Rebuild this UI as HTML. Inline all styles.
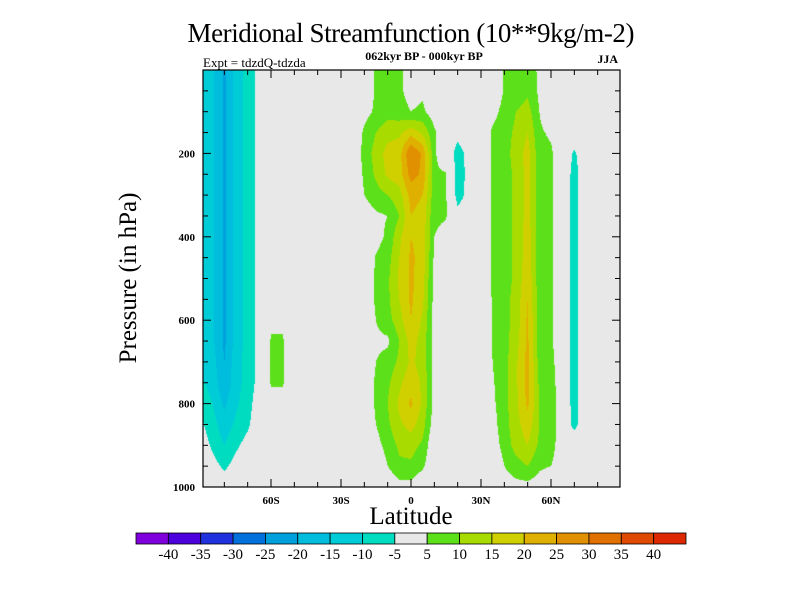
<!DOCTYPE html>
<html><head><meta charset="utf-8">
<style>
body{margin:0;background:#fff;width:800px;height:600px;overflow:hidden;font-family:"Liberation Serif",serif;}
#wrap{position:relative;width:800px;height:600px;}
canvas,svg{position:absolute;left:0;top:0;}
</style></head>
<body>
<div id="wrap">
<canvas id="cv" width="800" height="600"></canvas>
<svg id="sv" width="800" height="600"></svg>
</div>
<script>
// ---- data ----
const lats = [-90,-85,-80,-75,-70,-65,-60,-55,-50,-45,-40,-35,-30,-25,-20,-15,-10,-5,0,5,10,15,20,25,30,35,40,45,50,55,60,65,70,75,80,85,90];
const pressures = [0,50,100,150,200,250,300,350,400,450,500,550,600,650,700,750,800,850,900,950,1000];
const L0=[-12,-14,-21,-13,-8,-3];
const L7=[-11,-13,-20,-12,-8,-3];
const values = [
[...L0,0,0,0,0,0,0,0,0, 0,6,7,6,3,4,0,0, 0,0,0, 0,5.5,7,8,4,0, 0,0,0,0,0,0],
[...L0,0,0,0,0,0,0,0,0, 0,6,7,6,3,4,0,0, 0,0,0, 0,5.5,7,9,4,0, 0,0,0,0,0,0],
[...L0,0,0,0,0,0,0,0,0, 3,6,8,7,5,6,2,0, 0,0,0, 3,7,10,12,5,0, 0,0,0,0,0,0],
[...L0,0,0,0,0,0,0,0,0, 6,10,13,14,18,14,6,0, -3,0,0, 6,8,11,15,6,4, 0,0,0,0,0,0],
[...L0,0,0,0,0,0,0,0,0, 7,12,17,18,30,24,6,0, -7.5,-3,0, 6,8,12,17,7,6, 0,-6,0,0,0,0],
[...L0,0,0,0,0,0,0,0,0, 6,11,16,18,27,24,6,5.5, -8,-3,0, 6,8,11,17,7,6, 0,-7.5,0,0,0,0],
[...L0,0,0,0,0,0,0,0,0, 5,8,10,13,22,20,7,5.5, -7.5,-3,0, 6,8,11,17,7,6, 0,-7.5,0,0,0,0],
[...L0,0,0,0,0,0,0,0,0, 2,4,5,10,20,18,6,5.5, -3,0,0, 6,8,11,17,7,6, 0,-7.5,0,0,0,0],
[...L0,0,0,0,0,0,0,0,0, 0,3,6,14,20,18,5,3, 0,0,0, 6,8,11,18,7,6, 0,-7.5,0,0,0,0],
[...L0,0,0,0,0,0,0,0,0, 0,5.5,8,15,21,18,4,0, 0,0,0, 6,8,11,18,7,6, 0,-7.5,0,0,0,0],
[...L0,0,0,0,0,0,0,0,0, 0,6,9,16,21,17,3,0, 0,0,0, 6,8,11,19,7,6, 0,-7.5,0,0,0,0],
[...L0,0,0,0,0,0,0,0,0, 0,6,9,15,21,16,3,0, 0,0,0, 5.5,8,12,20,7,6, 0,-7.5,0,0,0,0],
[...L0,4,4,0,0,0,0,0,0, 0,5,8,13,20,14,3,0, 0,0,0, 5.5,8,12,21,7,6, 0,-7.5,0,0,0,0],
[...L0,5.5,5.5,0,0,0,0,0,0, 0,4,4,10,17,13,3,0, 0,0,0, 5.5,8,13,21,7,6, 0,-7.5,0,0,0,0],
[...L7,5.5,5.5,0,0,0,0,0,0, 0,5,7,11,16,13,3,0, 0,0,0, 5,8,14,22,8,7, 0,-7.5,0,0,0,0],
[-9,-12,-19,-12,-8,-3,5.5,5.5,0,0,0,0,0,0, 0,6,9,14,18,14,3,0, 0,0,0, 4.5,8,14,22,9,8, 0,-7.5,0,0,0,0],
[-7,-10,-16,-11,-7,-2,3,3,0,0,0,0,0,0, 0,6,10,16,21,14,3,0, 0,0,0, 4,8,14,21,10,9, 0,-7.5,0,0,0,0],
[-4,-8,-13,-9,-6,-1,0,0,0,0,0,0,0,0, 0,5,9,14,17,12,2,0, 0,0,0, 3,8,13,18,10,9, 0,-7,0,0,0,0],
[-2,-6,-10,-6,-3,0,0,0,0,0,0,0,0,0, 0,3,7,11,12,9,0,0, 0,0,0, 2,7,12,15,9,8, 0,0,0,0,0,0],
[0,-3,-6,-3,-1,0,0,0,0,0,0,0,0,0, 0,0,5,9,9,6,0,0, 0,0,0, 0,5,8,10,6,5, 0,0,0,0,0,0],
[0,0,-2,0,0,0,0,0,0,0,0,0,0,0, 0,0,0,3,3,0,0,0, 0,0,0, 0,2,3,3,2,0, 0,0,0,0,0,0]
];
const levels = [-40,-35,-30,-25,-20,-15,-10,-5,5,10,15,20,25,30,35,40];
const levelColors = ['#8000DD','#4B00DD','#2032DD','#0070DD','#00A0DD','#00BCDD','#00CCD8','#00DCC0','#E8E8E8','#5CE01A','#A8DC00','#D0D000','#E0B000','#E09000','#E07000','#E04A00','#DD2800'];
const xTicks = [-60,-30,0,30,60];
const xTickLabels = ['60S','30S','0','30N','60N'];
const yTicks = [200,400,600,800,1000];

// ---- axes ----
const PX0=201, PX1=621, PY0=70, PY1=487;
const xs = lat => PX0 + (lat+90)/180*(PX1-PX0);
const ys = p => PY0 + p/1000*(PY1-PY0);
const latOf = x => (x-PX0)/(PX1-PX0)*180-90;
const pOf = y => (y-PY0)/(PY1-PY0)*1000;

function interp(lat,p){
  let i=(lat-lats[0])/(lats[1]-lats[0]); let j=(p-pressures[0])/(pressures[1]-pressures[0]);
  i=Math.max(0,Math.min(lats.length-1.0001,i)); j=Math.max(0,Math.min(pressures.length-1.0001,j));
  const i0=Math.floor(i), j0=Math.floor(j), fi=i-i0, fj=j-j0;
  const a=values[j0][i0], b=values[j0][i0+1], c=values[j0+1][i0], d=values[j0+1][i0+1];
  return (a*(1-fi)+b*fi)*(1-fj)+(c*(1-fi)+d*fi)*fj;
}
function colorOf(v){let k=0;while(k<levels.length&&v>=levels[k])k++;return levelColors[k];}

const ctx=document.getElementById('cv').getContext('2d');
for(let y=PY0;y<PY1;y++){for(let x=PX0+2;x<PX1-1;x++){
  ctx.fillStyle=colorOf(interp(latOf(x+0.5),pOf(y+0.5)));ctx.fillRect(x,y,1,1);}}

const NS='http://www.w3.org/2000/svg';
const sv=document.getElementById('sv');
function mk(tag,attrs,txt){const e=document.createElementNS(NS,tag);for(const k in attrs)e.setAttribute(k,attrs[k]);if(txt!==undefined)e.textContent=txt;sv.appendChild(e);return e;}
let e;
e=mk('rect',{x:PX0+2,y:PY0,width:PX1-PX0-3,height:PY1-PY0,fill:'none',stroke:'#000','stroke-width':1.2});


for(let lat=-80;lat<=80;lat+=10){
  const major=(lat%30===0); const len=major?8:5; const x=xs(lat);
  e=mk('line',{x1:x,x2:x,y1:PY1,y2:PY1-len,stroke:'#000'});
  
  
  e=mk('line',{x1:x,x2:x,y1:PY0,y2:PY0+len,stroke:'#000'});
  
  
}
xTicks.forEach((t,i)=>{
  e=mk('text',{x:xs(t),y:PY1+17,'text-anchor':'middle','font-size':11,'font-weight':'bold','font-family':'Liberation Serif, serif'},xTickLabels[i]);
  
  
});
for(let p=50;p<1000;p+=50){
  const major=(p%200===0); const len=major?8:5; const y=ys(p);
  e=mk('line',{x1:PX0+2,x2:PX0+2+len,y1:y,y2:y,stroke:'#000'});
  
  
  e=mk('line',{x1:PX1-1,x2:PX1-1-len,y1:y,y2:y,stroke:'#000'});
  
  
}
yTicks.forEach(t=>{
  e=mk('text',{x:PX0-6,y:ys(t)+4,'text-anchor':'end','font-size':11,'font-weight':'bold','font-family':'Liberation Serif, serif'},String(t));
  
  
});
e=mk('text',{x:411,y:42,'text-anchor':'middle','font-size':27,'font-family':'Liberation Serif, serif',textLength:447},'Meridional Streamfunction (10**9kg/m-2)');


e=mk('text',{x:424,y:60,'text-anchor':'middle','font-size':12,'font-weight':'bold','font-family':'Liberation Serif, serif'},'062kyr BP - 000kyr BP');


e=mk('text',{x:203,y:67,'font-size':13,'font-family':'Liberation Serif, serif'},'Expt = tdzdQ-tdzda');


e=mk('text',{x:618,y:63,'text-anchor':'end','font-size':12,'font-weight':'bold','font-family':'Liberation Serif, serif'},'JJA');


e=mk('text',{x:411,y:524,'text-anchor':'middle','font-size':25,'font-family':'Liberation Serif, serif'},'Latitude');


e=mk('text',{x:0,y:0,'text-anchor':'middle','font-size':25,'font-family':'Liberation Serif, serif',transform:'translate(136,278) rotate(-90)'},'Pressure (in hPa)');


const CB0=136, CB1=686, CBY=533, CBH=11; const bw=(CB1-CB0)/levelColors.length;
levelColors.forEach((c,i)=>{
  e=mk('rect',{x:CB0+i*bw,y:CBY,width:bw,height:CBH,fill:c,stroke:'#000','stroke-width':0.8});
  
  
});
levels.forEach((l,i)=>{
  e=mk('text',{x:CB0+(i+1)*bw,y:CBY+CBH+15,'text-anchor':'middle','font-size':15,'font-family':'Liberation Serif, serif'},String(l));
  
  
});
</script>
</body></html>
